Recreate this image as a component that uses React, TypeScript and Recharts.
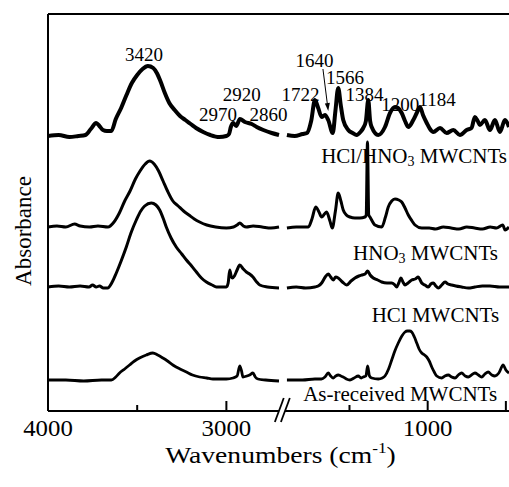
import React from 'react';
import { LineChart, Line, XAxis, YAxis, ReferenceLine, ReferenceDot } from 'recharts';

// FTIR spectra: [wavenumber (cm-1), absorbance incl. stacking offset]
const hclHno3Spectrum: [number, number][] = [
  [4000, 275], [3940, 276], [3880, 274], [3830, 275], [3790, 276], [3760, 282], [3730, 288], [3712, 285],
  [3692, 281], [3670, 280], [3645, 280], [3620, 292], [3590, 303], [3560, 316], [3530, 328], [3500, 336],
  [3470, 342], [3440, 345], [3410, 343], [3390, 338], [3370, 330], [3345, 318], [3320, 308], [3290, 301],
  [3260, 295], [3230, 291], [3200, 287], [3170, 283], [3130, 279], [3090, 276], [3040, 274], [3000, 275],
  [2985, 277], [2975, 284], [2962, 288], [2945, 285], [2924, 292], [2896, 289], [2858, 287], [2830, 284],
  [2793, 281], [2746, 278], [2705, 276],
  [1900, 276], [1850, 275], [1800, 277], [1772, 278], [1745, 290], [1721, 311], [1700, 303], [1678, 294],
  [1657, 296], [1636, 291], [1607, 278], [1590, 300], [1572, 323], [1555, 305], [1540, 291], [1508, 281],
  [1480, 278], [1454, 276], [1430, 279], [1412, 283], [1395, 290], [1380, 311], [1368, 290], [1358, 284],
  [1316, 276], [1273, 284], [1241, 298], [1209, 304], [1190, 303], [1166, 298], [1145, 290], [1124, 284],
  [1092, 291], [1070, 298], [1049, 304], [1030, 296], [1006, 288], [985, 282], [964, 279], [921, 283],
  [879, 278], [836, 281], [794, 276], [751, 281], [720, 283], [698, 294], [680, 290], [666, 286],
  [634, 291], [602, 281], [570, 291], [538, 279], [506, 291], [480, 284],
];

const hno3Spectrum: [number, number][] = [
  [4000, 184], [3950, 185], [3900, 184], [3851, 187], [3820, 185], [3767, 184], [3720, 185], [3664, 184],
  [3630, 189], [3600, 198], [3570, 210], [3540, 220], [3510, 232], [3484, 240], [3455, 247], [3430, 250],
  [3405, 247], [3380, 240], [3355, 230], [3330, 220], [3300, 210], [3270, 205], [3240, 200], [3210, 196],
  [3180, 192], [3150, 189], [3110, 186], [3060, 184], [3000, 183], [2960, 184], [2940, 186], [2925, 188],
  [2905, 185], [2888, 184], [2850, 185], [2800, 184], [2750, 183], [2705, 184],
  [1900, 183], [1840, 184], [1763, 184], [1740, 192], [1716, 204], [1695, 199], [1678, 194], [1660, 197],
  [1646, 199], [1625, 190], [1610, 183], [1590, 200], [1572, 218], [1555, 210], [1540, 201], [1520, 196],
  [1497, 194], [1465, 193], [1433, 193], [1401, 194], [1393, 196], [1385, 269], [1377, 196], [1369, 194],
  [1337, 186], [1294, 184], [1270, 194], [1252, 204], [1230, 210], [1209, 212], [1185, 211], [1166, 209],
  [1145, 203], [1124, 196], [1100, 190], [1081, 186], [1038, 183], [990, 183], [950, 182], [900, 184],
  [850, 183], [800, 182], [750, 184], [700, 183], [650, 182], [600, 184], [560, 183], [520, 186],
  [505, 181], [480, 184],
];

const hclSpectrum: [number, number][] = [
  [4000, 124], [3940, 125], [3880, 124], [3820, 125], [3770, 124], [3750, 126], [3730, 124], [3711, 125],
  [3690, 123], [3666, 123], [3640, 129], [3617, 138], [3590, 150], [3561, 164], [3535, 178], [3505, 191],
  [3480, 200], [3458, 205], [3421, 208], [3395, 206], [3374, 201], [3355, 193], [3337, 184], [3310, 173],
  [3281, 164], [3250, 157], [3224, 151], [3195, 145], [3168, 139], [3140, 133], [3112, 129], [3080, 126],
  [3056, 124], [3000, 124], [2990, 128], [2981, 141], [2972, 134], [2966, 133], [2955, 135], [2940, 141],
  [2925, 146], [2905, 142], [2888, 139], [2870, 137], [2851, 134], [2830, 129], [2813, 126], [2770, 124],
  [2705, 123],
  [1900, 123], [1840, 124], [1780, 123], [1721, 124], [1700, 125], [1678, 128], [1655, 134], [1636, 137],
  [1620, 134], [1604, 131], [1588, 134], [1572, 133], [1545, 129], [1518, 126], [1490, 130], [1465, 133],
  [1440, 135], [1422, 136], [1400, 137], [1384, 140], [1368, 136], [1348, 133], [1320, 131], [1294, 129],
  [1260, 128], [1230, 128], [1210, 126], [1198, 124], [1185, 128], [1171, 133], [1158, 129], [1145, 126],
  [1125, 128], [1102, 131], [1080, 132], [1060, 134], [1048, 131], [1038, 128], [1018, 126], [996, 124],
  [980, 127], [964, 128], [948, 125], [932, 123], [910, 126], [889, 129], [870, 127], [847, 126],
  [820, 125], [783, 124], [740, 123], [698, 124], [650, 125], [602, 125], [540, 124], [480, 124],
];

const asReceivedSpectrum: [number, number][] = [
  [4000, 31], [3900, 31], [3800, 30], [3700, 31], [3645, 31], [3620, 34], [3599, 38], [3570, 42],
  [3543, 46], [3515, 50], [3487, 53], [3449, 56], [3412, 58], [3385, 56], [3356, 53], [3330, 50],
  [3300, 46], [3260, 42], [3224, 39], [3190, 36], [3150, 34], [3110, 33], [3075, 32], [3000, 32],
  [2963, 33], [2940, 35], [2925, 45], [2915, 40], [2907, 34], [2885, 35], [2870, 36], [2851, 38],
  [2838, 34], [2823, 32], [2780, 31], [2705, 30],
  [1900, 31], [1800, 31], [1721, 32], [1680, 32], [1657, 34], [1636, 38], [1620, 35], [1604, 33],
  [1588, 35], [1572, 36], [1555, 35], [1540, 34], [1520, 32], [1497, 31], [1470, 33], [1444, 35],
  [1425, 33], [1412, 34], [1395, 35], [1384, 45], [1372, 35], [1358, 33], [1316, 32], [1290, 33],
  [1273, 35], [1250, 42], [1230, 51], [1210, 60], [1188, 68], [1165, 75], [1145, 79], [1130, 80],
  [1115, 80], [1102, 79], [1085, 74], [1070, 68], [1055, 62], [1038, 58], [1020, 56], [1006, 54],
  [990, 50], [974, 44], [958, 39], [942, 35], [910, 33], [890, 35], [868, 36], [846, 34],
  [825, 33], [804, 36], [783, 38], [760, 35], [740, 34], [720, 36], [698, 38], [676, 36],
  [655, 34], [634, 37], [613, 39], [590, 36], [570, 35], [545, 38], [517, 46], [500, 41], [480, 38],
];

const seriesNames = ['HCl/HNO3 MWCNTs', 'HNO3 MWCNTs', 'HCl MWCNTs', 'As-received MWCNTs'];
const peakLabels = ['3420', '2970', '2920', '2860', '1722', '1640', '1566', '1384', '1200', '1184'];
const xTickValues = [4000, 3500, 3000, 1500, 1000, 500];
const xTickLabels = ['4000', '', '3000', '', '1000', ''];

// broken x axis: 4000-2700 on the left, 1900-480 (slightly compressed) on the right
const LEFT_FROM = 4000;
const LEFT_TO = 2700;
const RIGHT_FROM = 1900;
const RIGHT_TO = 480;
const GAP = 39.4;
const RIGHT_SCALE = 0.8767;
const toAxis = (w: number) =>
  w >= LEFT_TO ? LEFT_FROM - w : LEFT_FROM - LEFT_TO + GAP + (RIGHT_FROM - w) * RIGHT_SCALE;
const X_MAX = toAxis(RIGHT_TO);
const BREAK_MID = (toAxis(LEFT_TO) + toAxis(RIGHT_FROM)) / 2;

const toPoints = (spec: [number, number][]) => {
  const out: { x: number; y: number | null }[] = [];
  spec.forEach(([w, a], i) => {
    if (i > 0 && spec[i - 1][0] >= LEFT_TO && w < LEFT_TO) out.push({ x: BREAK_MID, y: null });
    out.push({ x: toAxis(w), y: a });
  });
  return out;
};

const FONT = '"Liberation Serif", "Times New Roman", serif';

// subscripted digits for chemical formulas (HNO3)
const chem = (s: string) =>
  s.split(/(\d)/).map((part, i) =>
    /^\d$/.test(part) ? (
      <tspan key={i} fontSize={14} dy={3}>{part}</tspan>
    ) : (
      <tspan key={i} dy={i > 0 ? -3 : 0}>{part}</tspan>
    )
  );

const XTick = (props: any) => {
  const { x, y, payload } = props;
  const i = xTickValues.findIndex((v) => Math.abs(toAxis(v) - payload.value) < 0.5);
  const v = xTickValues[i];
  const label = xTickLabels[i];
  const len = [4000, 3000, 1000, 500].includes(v) ? 10 : 6;
  return (
    <g>
      <line x1={x} x2={x} y1={y} y2={y - len} stroke="#000" strokeWidth={2} />
      {label ? (
        <text
          transform={`translate(${x} ${y + 25}) scale(1.08 1)`}
          textAnchor="middle"
          fontSize={23}
          fontFamily={FONT}
          fill="#000"
        >
          {label}
        </text>
      ) : null}
    </g>
  );
};

export default function App() {
  const series = [hclHno3Spectrum, hno3Spectrum, hclSpectrum, asReceivedSpectrum];
  const widths = [4, 3, 3, 2.8];
  const peakSpots: [number, number][] = [
    [3462, 350], [3047, 290], [2914, 310], [2764, 290], [1814, 310],
    [1724, 344], [1529, 327], [1404, 310], [1176, 300], [940, 305],
  ];
  const nameSpots: [number, number][] = [[493, 248], [550, 151], [543, 89], [556, 10]];

  return (
    <div style={{ position: 'absolute', left: 0, top: 0, background: '#fff' }}>
      <LineChart width={509} height={487} margin={{ top: 14, right: 0, bottom: 16, left: 0 }}>
        <XAxis
          type="number"
          dataKey="x"
          domain={[0, X_MAX]}
          ticks={xTickValues.map(toAxis)}
          interval={0}
          tick={(p: any) => <XTick {...p} />}
          tickLine={false}
          axisLine={false}
          tickSize={0}
          tickMargin={0}
          height={60}
          allowDataOverflow
          label={{
            content: (p: any) => {
              const vb = p.viewBox;
              const cx = vb.x + vb.width / 2 + 2;
              return (
                <text
                  transform={`translate(${cx} ${vb.y + 52}) scale(1.15 1)`}
                  textAnchor="middle"
                  fontSize={24}
                  fontFamily={FONT}
                  fill="#000"
                >
                  Wavenumbers (cm<tspan fontSize={15} dy={-10}>-1</tspan>
                  <tspan dy={10}>)</tspan>
                </text>
              );
            },
          }}
        />
        <YAxis
          type="number"
          domain={[0, 397]}
          width={48}
          tick={false}
          tickLine={false}
          axisLine={{ stroke: '#000', strokeWidth: 2 }}
          allowDataOverflow
          label={{
            content: (p: any) => {
              const vb = p.viewBox;
              const x = vb.x + 31;
              const y = vb.y + 217;
              return (
                <text
                  x={x}
                  y={y}
                  transform={`rotate(-90 ${x} ${y})`}
                  textAnchor="middle"
                  fontSize={23}
                  fontFamily={FONT}
                  fill="#000"
                >
                  Absorbance
                </text>
              );
            },
          }}
        />

        {/* frame: top border and broken bottom axis */}
        <ReferenceLine y={397} stroke="#000" strokeWidth={2} />
        <ReferenceLine
          segment={[{ x: 0, y: 0 }, { x: BREAK_MID - 25, y: 0 }]}
          stroke="#000"
          strokeWidth={2}
          ifOverflow="visible"
        />
        <ReferenceLine
          segment={[{ x: BREAK_MID + 9, y: 0 }, { x: X_MAX, y: 0 }]}
          stroke="#000"
          strokeWidth={2}
          ifOverflow="visible"
        />
        {[-23, 11].map((d) => (
          <ReferenceLine
            key={d}
            segment={[{ x: BREAK_MID + d - 25, y: -11 }, { x: BREAK_MID + d + 25, y: 13 }]}
            stroke="#000"
            strokeWidth={1.8}
            ifOverflow="visible"
          />
        ))}

        {series.map((spec, i) => (
          <Line
            key={seriesNames[i]}
            name={seriesNames[i]}
            data={toPoints(spec)}
            dataKey="y"
            type="monotone"
            stroke="#000"
            strokeWidth={widths[i]}
            strokeLinejoin="round"
            dot={false}
            activeDot={false}
            connectNulls={false}
            isAnimationActive={false}
          />
        ))}

        {peakLabels.map((t, i) => (
          <ReferenceDot
            key={t}
            x={toAxis(peakSpots[i][0])}
            y={peakSpots[i][1]}
            r={1}
            shape={(p: any) => (
              <g>
                <text x={p.cx} y={p.cy} textAnchor="middle" fontSize={19} fontFamily={FONT} fill="#000">
                  {t}
                </text>
                {t === '1640' ? (
                  <g>
                    <line x1={p.cx + 8.5} y1={p.cy + 2} x2={p.cx + 12.9} y2={p.cy + 37} stroke="#000" strokeWidth={1} />
                    <polygon
                      points={`${p.cx + 13.8},${p.cy + 44} ${p.cx + 15.4},${p.cy + 35.8} ${p.cx + 10.4},${p.cy + 36.4}`}
                      fill="#000"
                    />
                  </g>
                ) : null}
              </g>
            )}
          />
        ))}

        {seriesNames.map((n, i) => (
          <ReferenceDot
            key={n}
            x={toAxis(nameSpots[i][0])}
            y={nameSpots[i][1]}
            r={1}
            shape={(p: any) => (
              <text x={p.cx} y={p.cy} textAnchor="end" fontSize={21} fontFamily={FONT} fill="#000">
                {chem(n)}
              </text>
            )}
          />
        ))}
      </LineChart>
    </div>
  );
}
